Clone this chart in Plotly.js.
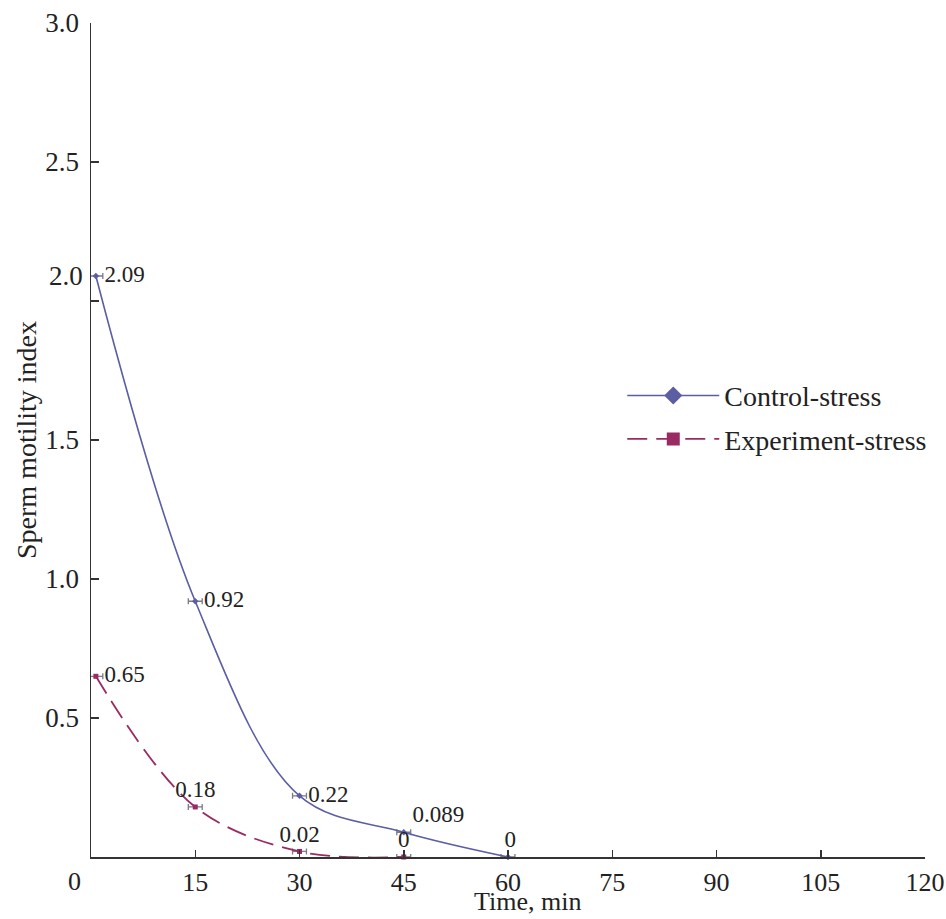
<!DOCTYPE html>
<html>
<head>
<meta charset="utf-8">
<script src="https://cdn.plot.ly/plotly-3.0.1.min.js"></script>
<style>html,body{margin:0;padding:0;background:#fff;}#chart{width:946px;height:919px;}</style>
</head>
<body>
<div id="chart"></div>
<script>
// Data
var controlTime = [0.7, 15, 30, 45, 60];
var controlValue = [2.09, 0.92, 0.22, 0.089, 0];
var controlLabels = ["2.09", "0.92", "0.22", "0.089", "0"];
var experimentTime = [0.7, 15, 30, 45];
var experimentValue = [0.65, 0.18, 0.02, 0];
var experimentLabels = ["0.65", "0.18", "0.02", "0"];
var timeError = 1.0;
var xTicks = [15, 30, 45, 60, 75, 90, 105, 120];
var yTicks = [0.5, 1.0, 1.5, 2.0, 2.5, 3.0];
var yTickText = ["0.5", "1.0", "1.5", "", "2.5", "3.0"];
var seriesNames = ["Control-stress", "Experiment-stress"];

var serif = "Liberation Serif, Times New Roman, serif";
var controlColor = "#5b5ea3";
var expColor = "#9a2b62";
var dashPattern = "20px,9px";

var traces = [
  {
    x: controlTime, y: controlValue, name: seriesNames[0],
    showlegend: false,
    mode: "lines+markers+text",
    line: {color: controlColor, width: 1.6, shape: "spline", smoothing: 1},
    marker: {symbol: "diamond", size: 5, color: controlColor},
    error_x: {type: "constant", value: timeError, color: "#7a7a88", thickness: 1.3, width: 3},
    text: controlLabels.map(function(s){return "\u2009" + s;}),
    textposition: ["middle right", "middle right", "middle right", "top right", "top center"],
    textfont: {family: serif, size: 23, color: "#222"},
    cliponaxis: false
  },
  {
    x: experimentTime, y: experimentValue, name: seriesNames[1],
    showlegend: false,
    mode: "lines+markers+text",
    line: {color: expColor, width: 1.8, shape: "spline", smoothing: 1, dash: dashPattern},
    marker: {symbol: "square", size: 5, color: expColor},
    error_x: {type: "constant", value: timeError, color: "#7a7a88", thickness: 1.3, width: 3},
    text: experimentLabels.map(function(s, i){return i === 0 ? "\u2009" + s : s;}),
    textposition: ["middle right", "top center", "top center", "top center"],
    textfont: {family: serif, size: 23, color: "#222"},
    cliponaxis: false
  },
  // legend entries (full-size symbols as in the reference legend)
  {
    x: [null], y: [null], name: seriesNames[0], legendgroup: "a",
    mode: "lines+markers",
    line: {color: controlColor, width: 1.6},
    marker: {symbol: "diamond", size: 14, color: controlColor}
  },
  {
    x: [null], y: [null], name: seriesNames[1], legendgroup: "b",
    mode: "lines+markers",
    line: {color: expColor, width: 1.8, dash: dashPattern},
    marker: {symbol: "square", size: 13, color: expColor}
  }
];

var layout = {
  width: 946, height: 919,
  margin: {l: 90.5, r: 21, t: 23, b: 62},
  paper_bgcolor: "#fff", plot_bgcolor: "#fff",
  font: {family: serif, color: "#222"},
  showlegend: true,
  legend: {
    x: 0.637, y: 0.583, xanchor: "left", yanchor: "top",
    font: {family: serif, size: 28, color: "#222"},
    itemwidth: 92, tracegroupgap: 4,
    bgcolor: "rgba(0,0,0,0)"
  },
  xaxis: {
    range: [0, 120], tickvals: xTicks, ticktext: xTicks.map(String),
    ticks: "inside", ticklen: 7, tickwidth: 1.5, tickcolor: "#333",
    showline: true, linecolor: "#333", linewidth: 1.5,
    showgrid: false, zeroline: false,
    tickfont: {family: serif, size: 26, color: "#222"},
    ticklabelstandoff: 1
  },
  yaxis: {
    range: [0, 3], tickvals: yTicks, ticktext: yTickText,
    ticks: "inside", ticklen: 8, tickwidth: 1.5, tickcolor: "#333",
    showline: true, linecolor: "#333", linewidth: 1.5,
    showgrid: false, zeroline: false,
    tickfont: {family: serif, size: 27, color: "#222"},
    ticklabelstandoff: 5,
    title: {text: "Sperm motility index", font: {family: serif, size: 28, color: "#222"}, standoff: 0}
  },
  annotations: [
    {text: "2.0", xref: "paper", x: 0, yref: "y", y: controlValue[0], xanchor: "right", yanchor: "middle",
     xshift: -6, showarrow: false, font: {family: serif, size: 27, color: "#222"}},
    {text: "0", xref: "x", x: 0, yref: "paper", y: 0, xanchor: "center", yanchor: "top",
     xshift: -17, yshift: -8, showarrow: false, font: {family: serif, size: 26, color: "#222"}},
    {text: "Time, min", xref: "paper", x: 0.523, yref: "paper", y: 0, xanchor: "center", yanchor: "middle",
     yshift: -44, borderpad: 0, showarrow: false, font: {family: serif, size: 26, color: "#222"}}
  ]
};

Plotly.newPlot("chart", traces, layout, {displayModeBar: false, staticPlot: true});
</script>
</body>
</html>
